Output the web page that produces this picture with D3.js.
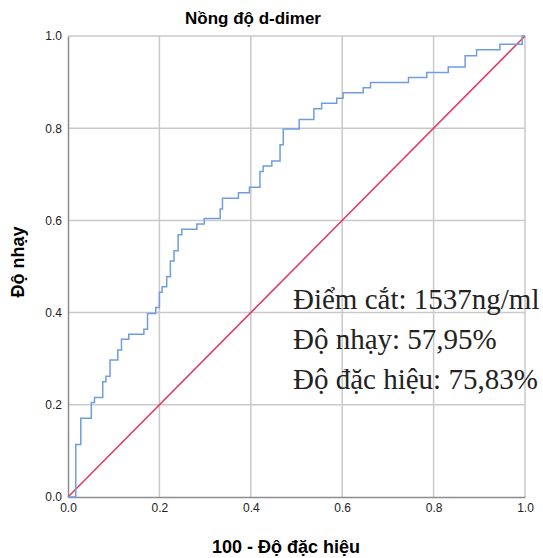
<!DOCTYPE html>
<html lang="vi">
<head>
<meta charset="utf-8">
<title>ROC d-dimer</title>
<script src="https://d3js.org/d3.v7.min.js"></script>
<style>
  body { margin: 0; background: #fff; }
  svg text { font-family: "Liberation Sans", Arial, sans-serif; }
</style>
</head>
<body>
<div id="chart"></div>
<script>
// ROC curve points (1 - specificity, sensitivity)
var fpr = [0, 0.017, 0.028, 0.051, 0.058, 0.076, 0.083, 0.092, 0.109, 0.117, 0.133, 0.166, 0.174, 0.192,
           0.200, 0.206, 0.216, 0.224, 0.232, 0.241, 0.249, 0.282, 0.298, 0.333, 0.338, 0.373, 0.397,
           0.420, 0.427, 0.446, 0.464, 0.471, 0.506, 0.538, 0.555, 0.588, 0.602, 0.646, 0.662, 0.745,
           0.785, 0.832, 0.869, 0.894, 0.945, 0.994, 1.0];
var tpr = [0, 0.114, 0.171, 0.205, 0.216, 0.250, 0.262, 0.297, 0.319, 0.342, 0.353, 0.364, 0.398, 0.411,
           0.444, 0.456, 0.478, 0.512, 0.534, 0.569, 0.581, 0.592, 0.604, 0.625, 0.648, 0.660, 0.672,
           0.706, 0.718, 0.729, 0.764, 0.798, 0.819, 0.842, 0.854, 0.865, 0.877, 0.888, 0.899, 0.910,
           0.921, 0.933, 0.957, 0.970, 0.982, 1.0, 1.0];
var refLine = [0, 1];
var ticks = [0, 0.2, 0.4, 0.6, 0.8, 1.0];
var notes = ["Điểm cắt: 1537ng/ml", "Độ nhạy: 57,95%", "Độ đặc hiệu: 75,83%"];

var W = 543, H = 558;
var margin = {top: 36, right: 18, bottom: 61, left: 68};
var width = W - margin.left - margin.right,
    height = H - margin.top - margin.bottom;

var svg = d3.select("#chart").append("svg")
    .attr("width", W).attr("height", H);

var g = svg.append("g")
    .attr("transform", "translate(" + margin.left + "," + margin.top + ")");

var x = d3.scaleLinear().domain([0, 1]).range([0, width]);
var y = d3.scaleLinear().domain([0, 1]).range([height, 0]);

// grid
g.selectAll(".vgrid").data(ticks.slice(1)).enter().append("line")
    .attr("x1", d => x(d)).attr("x2", d => x(d))
    .attr("y1", 0).attr("y2", height)
    .attr("stroke", "#c9c9c9").attr("stroke-width", 1.5);
g.selectAll(".hgrid").data(ticks.slice(1)).enter().append("line")
    .attr("x1", 0).attr("x2", width)
    .attr("y1", d => y(d)).attr("y2", d => y(d))
    .attr("stroke", "#c9c9c9").attr("stroke-width", 1.5);

// axes
var xAxis = g.append("g")
    .attr("transform", "translate(0," + height + ")")
    .call(d3.axisBottom(x).tickValues(ticks).tickFormat(d3.format(".1f")).tickSize(0).tickPadding(6));
var yAxis = g.append("g")
    .call(d3.axisLeft(y).tickValues(ticks).tickFormat(d3.format(".1f")).tickSize(0).tickPadding(6));
[xAxis, yAxis].forEach(function(a) {
  a.select(".domain").attr("stroke", "#8c8c8c").attr("stroke-width", 1.5);
  a.selectAll("text").attr("font-size", 12).attr("fill", "#222")
    .style("font-family", "'Liberation Sans', Arial, sans-serif");
});

// reference line
g.append("line")
    .attr("x1", x(refLine[0])).attr("y1", y(refLine[0]))
    .attr("x2", x(refLine[1])).attr("y2", y(refLine[1]))
    .attr("stroke", "#e5365e").attr("stroke-width", 1.5);

// ROC curve
var pts = fpr.map((d, i) => [d, tpr[i]]);
g.append("path")
    .datum(pts)
    .attr("fill", "none")
    .attr("stroke", "#6f9de0")
    .attr("stroke-width", 1.5)
    .attr("d", d3.line().x(d => x(d[0])).y(d => y(d[1])).curve(d3.curveStepAfter));

// titles
svg.append("text")
    .attr("x", 253).attr("y", 24)
    .attr("text-anchor", "middle")
    .attr("font-size", 17).attr("font-weight", "bold")
    .text("Nồng độ d-dimer");

svg.append("text")
    .attr("x", 286).attr("y", 553)
    .attr("text-anchor", "middle")
    .attr("font-size", 18).attr("font-weight", "bold")
    .text("100 - Độ đặc hiệu");

svg.append("text")
    .attr("transform", "translate(24,262) rotate(-90)")
    .attr("text-anchor", "middle")
    .attr("font-size", 18).attr("font-weight", "bold")
    .text("Độ nhạy");

// annotation
svg.selectAll(".note").data(notes).enter().append("text")
    .attr("x", 293)
    .attr("y", (d, i) => 309 + i * 40)
    .attr("font-size", 29)
    .style("font-family", "'Liberation Serif', 'Times New Roman', serif")
    .attr("fill", "#222")
    .text(d => d);
</script>
</body>
</html>
